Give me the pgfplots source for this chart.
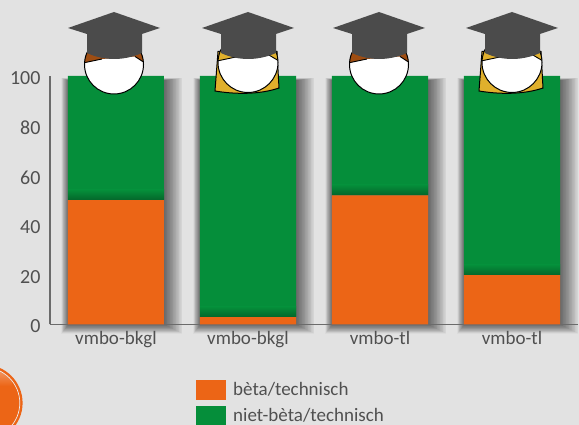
\documentclass[border=0pt]{standalone}
\usepackage{pgfplots}
\pgfplotsset{compat=1.18}
\usepackage{fontspec}
\setmainfont{Carlito}
\definecolor{bg}{HTML}{E2E2E2}
\definecolor{org}{HTML}{EC6516}
\definecolor{grn}{HTML}{058E3A}
\definecolor{grnd}{HTML}{04662A}
\definecolor{txt}{HTML}{505050}
\definecolor{axl}{HTML}{6B6B6B}
\definecolor{hatc}{HTML}{4B4B4B}
\definecolor{hairb}{HTML}{9E4D12}
\definecolor{hairy}{HTML}{E0B02C}
\newcommand{\barshadow}[1]{% #1 = left edge of the bar
  \foreach \s in {1,...,24}{
    \fill[black,opacity=0.026] (#1-7+0.3*\s,100-9+0.38*\s) rectangle (#1+96+19-0.75*\s,347-0.1*\s);
  }}
\newcommand{\gradcap}[1]{% #1 centre x
  \begin{scope}[shift={(#1,0)}]
  \fill[hatc] (0,413) -- (-46,397) -- (-27,391) -- (-27,372) .. controls (-10,364) and (10,364) .. (28,372) -- (28,391) -- (46,397) -- cycle;
  \end{scope}}
\newcommand{\boyhead}[2]{% centre x, centre y in page coordinates
  \fill[white] (#1,#2) circle (29.5);
  \begin{scope}
    \clip (#1,#2) circle (29.5);
    \fill[hairb] (#1-31,#2+1.5) -- (#1-12,#2+5.5) -- (#1+21,#2+8) -- (#1+31,#2+1.5) -- (#1+31,#2+32) -- (#1-31,#2+32) -- cycle;
    \draw[black,line width=0.9pt] (#1-31,#2+1.5) -- (#1-12,#2+5.5);
    \draw[black,line width=0.9pt] (#1+21,#2+8) -- (#1+31,#2+1.5);
  \end{scope}
  \draw[black,line width=1pt] (#1,#2) circle (29.5);
}
\newcommand{\girlhead}[2]{% centre x, centre y in page coordinates
  \fill[hairy,draw=black,line width=1pt] (#1-30,#2+11) -- (#1-33,#2-28.5) .. controls (#1-12,#2-32) and (#1+12,#2-32) .. (#1+31,#2-25.5) -- (#1+29,#2+11) -- cycle;
  \fill[white] (#1,#2) circle (30);
  \begin{scope}
    \clip (#1,#2) circle (30);
    \fill[hairy] (#1-31,#2+1.5) -- (#1-12,#2+5.5) -- (#1+20,#2+8) -- (#1+31,#2+1.5) -- (#1+31,#2+32) -- (#1-31,#2+32) -- cycle;
    \draw[black,line width=0.9pt] (#1-31,#2+1.5) -- (#1-12,#2+5.5);
    \draw[black,line width=0.9pt] (#1+20,#2+8) -- (#1+31,#2+1.5);
  \end{scope}
  \draw[black,line width=1pt] (#1,#2) circle (30);
}
\begin{document}
\begin{tikzpicture}[x=1pt,y=1pt]
\useasboundingbox (0,0) rectangle (579,425);
\fill[bg] (0,0) rectangle (579,425);
% roundel, bottom left
\begin{scope}
\clip (0,0) rectangle (579,425);
\fill[org] (-15.8,22) circle (38.4);
\begin{scope}
  \clip (-15.8,22) circle (35.6);
  \shade[top color=org!65!white,bottom color=org] (-2,39) rectangle (12,56);
\end{scope}
\draw[bg!60!white,line width=0.7pt] (-15.8,22) circle (35.6);
\end{scope}
\barshadow{68}\barshadow{200}\barshadow{332}\barshadow{464}
\begin{axis}[
  at={(50pt,100.5pt)},anchor=south west,
  width=528pt,height=248.5pt,scale only axis,
  xmin=-0.5,xmax=3.5,ymin=0,ymax=100,
  axis x line*=bottom,axis y line*=left,
  axis line style={draw=axl,line width=1.3pt,-},
  clip=false,
  ytick={0,20,40,60,80,100},
  xtick={0,1,2,3},
  xticklabels={vmbo-bkgl,vmbo-bkgl,vmbo-tl,vmbo-tl},
  tick style={draw=none},
  tick label style={text=txt},
  x tick label style={font=\fontsize{19}{19}\selectfont,yshift=-3.5pt},
  y tick label style={font=\fontsize{20}{20}\selectfont,xshift=-6pt,yshift=-2pt},
  /pgf/number format/assume math mode=true,
  ybar stacked,bar width=96pt,
  legend style={at={(146pt,-55pt)},anchor=north west,draw=none,fill=none,
    font=\fontsize{19}{19}\selectfont,text=txt,row sep=6pt,inner sep=0pt,
    /tikz/every even column/.append style={column sep=7pt}},
  legend cell align=left,
  legend image code/.code={\fill[#1] (0pt,-10pt) rectangle (35pt,10pt);\fill[bg] (30pt,-10pt) rectangle (35pt,10pt);},
]
\addplot[fill=org,draw=none] coordinates {(0,50) (1,3) (2,52) (3,20)};
\addplot[fill=grn,draw=none] coordinates {(0,50) (1,97) (2,48) (3,80)};
\legend{bèta/technisch,niet-bèta/technisch}
\end{axis}
% shadow of the orange part on the green part
\shade[bottom color=grnd,top color=grn] (68,225) rectangle (164,235);
\shade[bottom color=grnd,top color=grn] (200,108) rectangle (296,118);
\shade[bottom color=grnd,top color=grn] (332,230) rectangle (428,240);
\shade[bottom color=grnd,top color=grn] (464,150) rectangle (560,160);
% figures on top of the bars
\boyhead{114}{360.5}
\girlhead{248}{362.5}
\boyhead{379}{360.5}
\girlhead{512}{362.5}
\gradcap{114}\gradcap{248}\gradcap{379}\gradcap{512}
\end{tikzpicture}
\end{document}
